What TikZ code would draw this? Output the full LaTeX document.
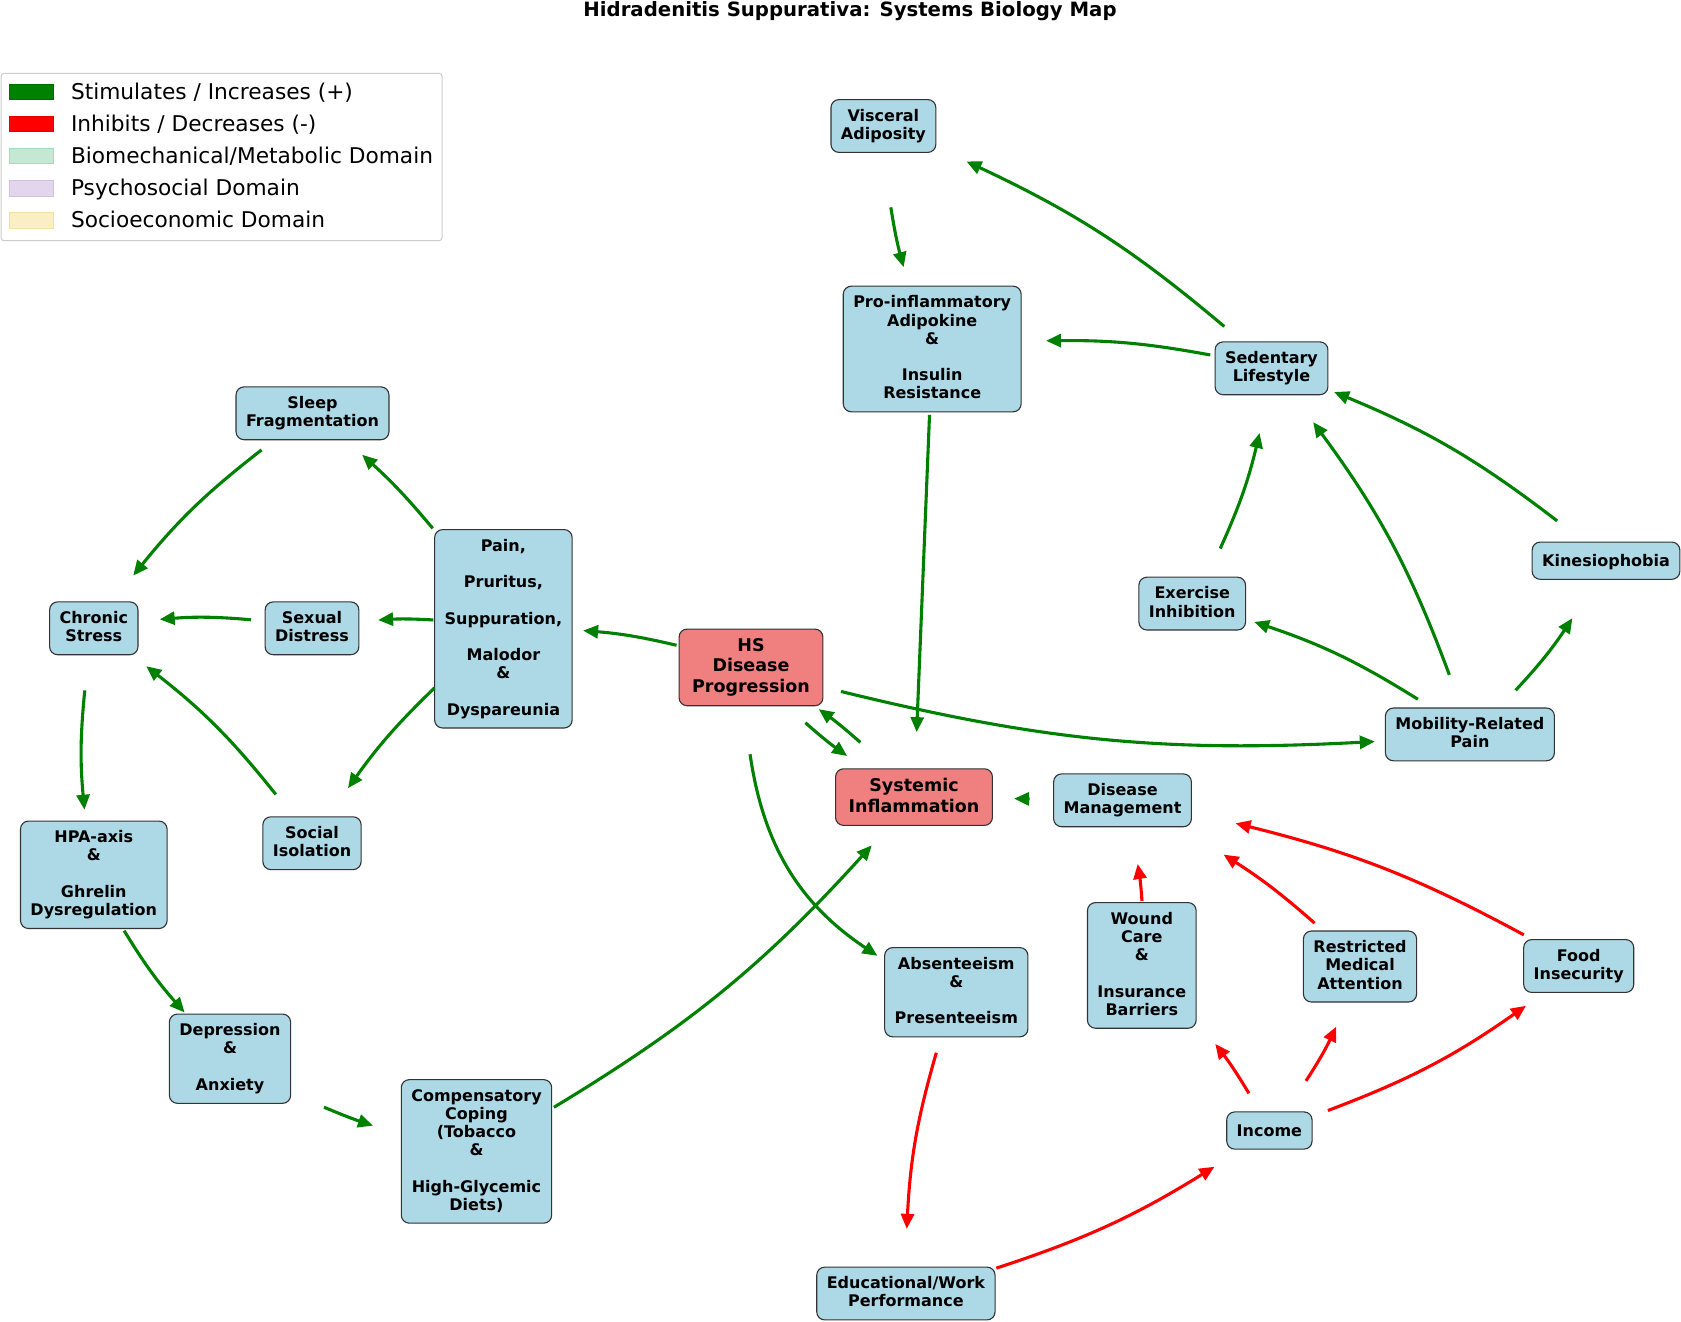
\documentclass[tikz,border=0pt]{standalone}
\usepackage{fontspec}
\setmainfont{DejaVu Sans}
\usetikzlibrary{arrows.meta}
\definecolor{nodeblue}{HTML}{ADD8E6}
\definecolor{nodecoral}{HTML}{F08080}
\definecolor{boxline}{HTML}{333333}
\definecolor{stimgreen}{HTML}{008000}
\definecolor{inhibred}{HTML}{FF0000}
\definecolor{biofill}{HTML}{C5E8D4}
\definecolor{bioline}{HTML}{A5DCBD}
\definecolor{psyfill}{HTML}{E2D5EC}
\definecolor{psyline}{HTML}{D2BFE2}
\definecolor{socfill}{HTML}{FAEEC4}
\definecolor{socline}{HTML}{F4E0A2}
\definecolor{framegray}{HTML}{CCCCCC}

\begin{document}
\begin{tikzpicture}[
  x=1pt, y=-1pt,
  box/.style={rectangle, rounded corners=8pt, draw=boxline, line width=1.1pt, fill=nodeblue,
              align=center, inner xsep=10pt, inner ysep=9.5pt,
              font=\fontsize{16}{18.2}\selectfont\bfseries,
              execute at begin node=\rule[-.19\baselineskip]{0pt}{\baselineskip},
              execute at end node=\rule[-.19\baselineskip]{0pt}{\baselineskip}},
  hot/.style={box, fill=nodecoral, inner xsep=13pt, font=\fontsize{17.5}{20.4}\selectfont\bfseries},
  guide/.style={bend right=11, looseness=0.87},
  up/.style={-{Triangle[length=15pt,width=13pt]}, line width=3.1pt, color=stimgreen},
  down/.style={up, color=inhibred},
  key/.style={rectangle, minimum width=44pt, minimum height=15.5pt, inner sep=0pt, line width=0.8pt},
  keytxt/.style={anchor=base west, inner sep=0pt, font=\fontsize{21.7}{26}\selectfont},
]
  \fill[white] (0,0) rectangle (1681,1322);
  \useasboundingbox (0,0) rectangle (1681,1322);

  \node[anchor=base, inner sep=0pt, font=\fontsize{19.7}{23}\selectfont\bfseries] (title) at (850,17)
    {Hidradenitis Suppurativa: Systems Biology Map};

  % legend
  \node[draw=framegray, line width=1pt, fill=white, rounded corners=3pt, inner sep=0pt,
        minimum width=441pt, minimum height=167.4pt] (legend) at (221.5,157) {};
  \node[key, fill=stimgreen, draw=stimgreen!85!black] (kstim) at (31.6,91.7) {};
  \node[key, fill=inhibred, draw=inhibred!90!black] (kinhib) at (31.6,123.9) {};
  \node[key, fill=biofill, draw=bioline] (kbio) at (31.6,156.1) {};
  \node[key, fill=psyfill, draw=psyline] (kpsy) at (31.6,188.2) {};
  \node[key, fill=socfill, draw=socline] (ksoc) at (31.6,220.3) {};
  \node[keytxt] (tstim) at (70.8,99.3) {Stimulates / Increases (+)};
  \node[keytxt] (tinhib) at (70.8,131.5) {Inhibits / Decreases (-)};
  \node[keytxt] (tbio) at (70.8,163.6) {Biomechanical/Metabolic Domain};
  \node[keytxt] (tpsy) at (70.8,195.8) {Psychosocial Domain};
  \node[keytxt] (tsoc) at (70.8,227.9) {Socioeconomic Domain};

  % nodes
  \node[box] (VA) at (883.4,126) {Visceral\\Adiposity};
  \node[box] (PI) at (932.2,349) {Pro-inflammatory\\Adipokine\\\&\\[18.2pt]Insulin\\Resistance};
  \node[box] (SL) at (1271.5,368.3) {Sedentary\\Lifestyle};
  \node[box] (SF) at (312.5,413.3) {Sleep\\Fragmentation};
  \node[box] (PP) at (503.4,628.8) {Pain,\\[18.2pt]Pruritus,\\[18.2pt]Suppuration,\\[18.2pt]Malodor\\\&\\[18.2pt]Dyspareunia};
  \node[box] (CS) at (93.8,628.3) {Chronic\\Stress};
  \node[box] (SD) at (312,628.3) {Sexual\\Distress};
  \node[hot] (HS) at (751,667.4) {HS\\Disease\\Progression};
  \node[box] (EI) at (1192.2,603.6) {Exercise\\Inhibition};
  \node[box] (KP) at (1606,560.7) {Kinesiophobia};
  \node[box] (MP) at (1469.9,734.4) {Mobility-Related\\Pain};
  \node[hot] (SI) at (914,797.1) {Systemic\\Inflammation};
  \node[box] (DM) at (1122.5,800.3) {Disease\\Management};
  \node[box] (SO) at (312,843.2) {Social\\Isolation};
  \node[box] (HPA) at (93.8,874.8) {HPA-axis\\\&\\[18.2pt]Ghrelin\\Dysregulation};
  \node[box] (DA) at (230,1058.7) {Depression\\\&\\[18.2pt]Anxiety};
  \node[box] (CC) at (476.5,1151.4) {Compensatory\\Coping\\(Tobacco\\\&\\[18.2pt]High-Glycemic\\Diets)};
  \node[box] (AP) at (956.3,992.2) {Absenteeism\\\&\\[18.2pt]Presenteeism};
  \node[box] (WC) at (1141.8,965.4) {Wound\\Care\\\&\\[18.2pt]Insurance\\Barriers};
  \node[box] (RM) at (1360,966.5) {Restricted\\Medical\\Attention};
  \node[box] (FI) at (1578.7,966) {Food\\Insecurity};
  \node[box] (IN) at (1269.4,1130.5) {Income};
  \node[box] (EW) at (905.9,1293.5) {Educational/Work\\Performance};

  % stimulating links: visible part of a centre-to-centre arc
  \path (VA.center) to[guide] coordinate[pos=.355] (vapiA) coordinate[pos=.623] (vapiB) (PI.center);
  \draw[up, bend right=3] (vapiA) to (vapiB);
  \path (SL.center) to[guide] coordinate[pos=.136] (slvaA) coordinate[pos=.805] (slvaB) (VA.center);
  \draw[up, bend right=7.5] (slvaA) to (slvaB);
  \path (SL.center) to[guide] coordinate[pos=.182] (slpiA) coordinate[pos=.667] (slpiB) (PI.center);
  \draw[up, bend right=5.5] (slpiA) to (slpiB);
  \path (PI.center) to coordinate[pos=.147] (pisiA) coordinate[pos=.855] (pisiB) (SI.center);
  \draw[up] (pisiA) to (pisiB);
  \path (EI.center) to[guide] coordinate[pos=.246] (eislA) coordinate[pos=.738] (eislB) (SL.center);
  \draw[up, bend right=5.5] (eislA) to (eislB);
  \path (MP.center) to[guide] coordinate[pos=.149] (mpslA) coordinate[pos=.839] (mpslB) (SL.center);
  \draw[up, bend right=8] (mpslA) to (mpslB);
  \path (KP.center) to[guide] coordinate[pos=.161] (kpslA) coordinate[pos=.829] (kpslB) (SL.center);
  \draw[up, bend right=7.5] (kpslA) to (kpslB);
  \path (MP.center) to[guide] coordinate[pos=.202] (mpeiA) coordinate[pos=.792] (mpeiB) (EI.center);
  \draw[up, bend right=6.7] (mpeiA) to (mpeiB);
  \path (MP.center) to[guide] coordinate[pos=.285] (mpkpA) coordinate[pos=.701] (mpkpB) (KP.center);
  \draw[up, bend right=4.7] (mpkpA) to (mpkpB);
  \path (HS.center) to[guide] coordinate[pos=.127] (hsmpA) coordinate[pos=.870] (hsmpB) (MP.center);
  \draw[up, bend right=8.4] (hsmpA) to (hsmpB);
  \path (HS.center) to[guide] coordinate[pos=.307] (hsppA) coordinate[pos=.685] (hsppB) (PP.center);
  \draw[up, bend right=4.3] (hsppA) to (hsppB);
  \path (HS.center) to[guide] coordinate[pos=.370] (hssiA) coordinate[pos=.626] (hssiB) (SI.center);
  \draw[up, bend right=2.9] (hssiA) to (hssiB);
  \path (SI.center) to[guide] coordinate[pos=.365] (sihsA) coordinate[pos=.621] (sihsB) (HS.center);
  \draw[up, bend right=2.9] (sihsA) to (sihsB);
  \path (HS.center) to[bend right=38.7, looseness=1.09] coordinate[pos=.19] (hsapA) coordinate[pos=.81] (hsapB) (AP.center);
  \draw[up, bend right=24] (hsapA) to (hsapB);
  \path (DM.center) to coordinate[pos=.446] (dmsiA) coordinate[pos=.520] (dmsiB) (SI.center);
  \draw[up] (dmsiA) to (dmsiB);
  \path (PP.center) to[guide] coordinate[pos=.424] (ppsfA) coordinate[pos=.778] (ppsfB) (SF.center);
  \draw[up, bend right=4] (ppsfA) to (ppsfB);
  \path (PP.center) to[guide] coordinate[pos=.366] (ppsdA) coordinate[pos=.655] (ppsdB) (SD.center);
  \draw[up, bend right=3.3] (ppsdA) to (ppsdB);
  \path (PP.center) to[guide] coordinate[pos=.313] (ppsoA) coordinate[pos=.774] (ppsoB) (SO.center);
  \draw[up, bend right=5.2] (ppsoA) to (ppsoB);
  \path (SF.center) to[guide] coordinate[pos=.202] (sfcsA) coordinate[pos=.788] (sfcsB) (CS.center);
  \draw[up, bend right=6.6] (sfcsA) to (sfcsB);
  \path (SD.center) to[guide] coordinate[pos=.280] (sdcsA) coordinate[pos=.698] (sdcsB) (CS.center);
  \draw[up, bend right=4.7] (sdcsA) to (sdcsB);
  \path (SO.center) to[guide] coordinate[pos=.196] (socsA) coordinate[pos=.791] (socsB) (CS.center);
  \draw[up, bend right=6.7] (socsA) to (socsB);
  \path (CS.center) to[guide] coordinate[pos=.252] (cshpA) coordinate[pos=.736] (cshpB) (HPA.center);
  \draw[up, bend right=5.5] (cshpA) to (cshpB);
  \path (HPA.center) to[guide] coordinate[pos=.275] (hpdaA) coordinate[pos=.720] (hpdaB) (DA.center);
  \draw[up, bend right=5] (hpdaA) to (hpdaB);
  \path (DA.center) to[guide] coordinate[pos=.399] (daccA) coordinate[pos=.598] (daccB) (CC.center);
  \draw[up, bend right=2.2] (daccA) to (daccB);
  \path (CC.center) to[guide] coordinate[pos=.156] (ccsiA) coordinate[pos=.888] (ccsiB) (SI.center);
  \draw[up, bend right=8.3] (ccsiA) to (ccsiB);

  % inhibiting links
  \path (AP.center) to[guide] coordinate[pos=.206] (apewA) coordinate[pos=.791] (apewB) (EW.center);
  \draw[down, bend right=6.6] (apewA) to (apewB);
  \path (EW.center) to[guide] coordinate[pos=.233] (ewinA) coordinate[pos=.837] (ewinB) (IN.center);
  \draw[down, bend right=6.8] (ewinA) to (ewinB);
  \path (IN.center) to[guide] coordinate[pos=.201] (inwcA) coordinate[pos=.487] (inwcB) (WC.center);
  \draw[down, bend right=3.2] (inwcA) to (inwcB);
  \path (IN.center) to[guide] coordinate[pos=.326] (inrmA) coordinate[pos=.658] (inrmB) (RM.center);
  \draw[down, bend right=3.8] (inrmA) to (inrmB);
  \path (IN.center) to[guide] coordinate[pos=.174] (infiA) coordinate[pos=.814] (infiB) (FI.center);
  \draw[down, bend right=7.2] (infiA) to (infiB);
  \path (WC.center) to[guide] coordinate[pos=.385] (wcdmA) coordinate[pos=.609] (wcdmB) (DM.center);
  \draw[down, bend right=2.5] (wcdmA) to (wcdmB);
  \path (RM.center) to[guide] coordinate[pos=.214] (rmdmA) coordinate[pos=.607] (rmdmB) (DM.center);
  \draw[down, bend right=4.4] (rmdmA) to (rmdmB);
  \path (FI.center) to[guide] coordinate[pos=.128] (fidmA) coordinate[pos=.765] (fidmB) (DM.center);
  \draw[down, bend right=7.2] (fidmA) to (fidmB);
\end{tikzpicture}
\end{document}
